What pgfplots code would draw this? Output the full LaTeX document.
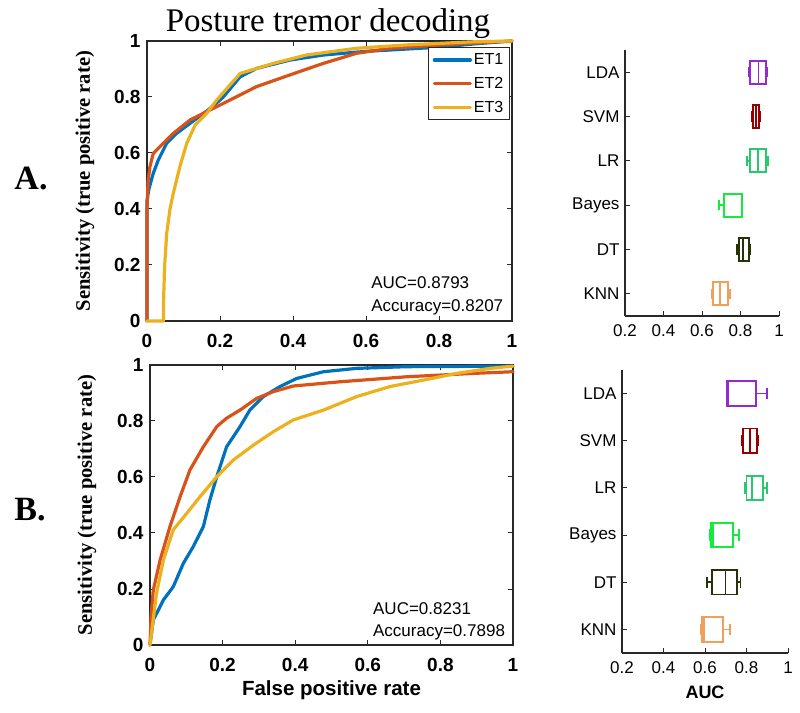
\documentclass[border=0pt]{standalone}
\usepackage{fontspec}
\setmainfont{Liberation Serif}
\setsansfont{Liberation Sans}
\usepackage{pgfplots}
\pgfplotsset{compat=1.18}
\usepgfplotslibrary{statistics}

\definecolor{et1}{RGB}{0,114,189}
\definecolor{et2}{RGB}{217,83,25}
\definecolor{et3}{RGB}{237,177,32}
\definecolor{cLDA}{RGB}{150,40,210}
\definecolor{cSVM}{RGB}{150,0,0}
\definecolor{cLR}{RGB}{40,200,110}
\definecolor{cBayes}{RGB}{20,235,60}
\definecolor{cDT}{RGB}{40,50,10}
\definecolor{cKNN}{RGB}{240,160,90}
\definecolor{axc}{RGB}{40,40,40}

\pgfplotsset{
  roc/.style={
    scale only axis, height=280pt,
    xmin=0, xmax=1, ymin=0, ymax=1,
    xtick={0,0.2,0.4,0.6,0.8,1}, ytick={0,0.2,0.4,0.6,0.8,1},
    axis line style={axc, line width=1.2pt},
    tick style={axc, line width=1pt},
    major tick length=5pt, tick align=inside,
    tick label style={font=\fontsize{19}{19}\selectfont\sffamily\bfseries},
    xticklabel style={yshift=-10pt},
    yticklabel style={xshift=-3pt},
    /pgf/number format/assume math mode=true,
    ylabel={Sensitivity (true positive rate)},
    every axis y label/.style={at={(axis description cs:-0.17,0.5)}, rotate=90, anchor=center,
      font=\fontsize{20.6}{20.6}\selectfont\rmfamily\bfseries},
    clip=false,
  },
  curve/.style={line width=3.2pt, line join=round, line cap=round},
  bx/.style={
    scale only axis,
    xmin=0.2, xmax=1, ymin=0.5, ymax=6.5,
    axis lines=left, axis line style={-, axc, line width=1.2pt},
    xtick={0.2,0.4,0.6,0.8,1}, ytick={1,2,3,4,5,6},
    yticklabels={KNN,DT,Bayes,LR,SVM,LDA},
    tick style={axc, line width=1pt},
    tick align=inside, major tick length=5pt,
    tick label style={font=\fontsize{17}{17}\selectfont\sffamily},
    xticklabel style={yshift=-5pt},
    yticklabel style={xshift=-2pt},
    /pgf/number format/assume math mode=true,
    boxplot/draw direction=x,
    boxplot/box extend=0.52,
    boxplot/whisker extend=0.24,
  },
  bp/.style={line width=1.8pt, draw=#1, solid},
}

\begin{document}
\begin{tikzpicture}
\useasboundingbox (0pt,0pt) rectangle (800pt,712pt);

\node[font=\fontsize{33}{33}\selectfont\rmfamily, anchor=base] at (328pt,680pt) {Posture tremor decoding};
\node[font=\fontsize{34}{34}\selectfont\rmfamily\bfseries] at (31pt,533pt) {A.};
\node[font=\fontsize{34}{34}\selectfont\rmfamily\bfseries] at (30pt,202pt) {B.};

% ---------- A: ROC ----------
\begin{axis}[roc, at={(147pt,391pt)}, anchor=south west, width=365pt,
  legend style={at={(rel axis cs:0.994,0.978)}, anchor=north east, draw=axc, line width=1pt,
    font=\fontsize{16}{16}\selectfont\sffamily, row sep=7pt, inner sep=4pt, cells={anchor=west}},
  legend image code/.code={\draw[#1, line width=3.2pt] (0pt,0pt) -- (36pt,0pt);},
]
\addplot[curve, et1] coordinates {(0,0) (0,0.2) (0,0.43) (0.005,0.47) (0.017,0.527) (0.031,0.575) (0.054,0.635) (0.081,0.670) (0.118,0.706) (0.164,0.75) (0.2,0.789) (0.209,0.80) (0.255,0.872) (0.30,0.902) (0.392,0.932) (0.484,0.95) (0.6,0.963) (0.803,0.978) (0.9,0.99) (1,1)};
\addlegendentry{ET1}
\addplot[curve, et2] coordinates {(0,0) (0,0.40) (0.003,0.5) (0.008,0.551) (0.017,0.598) (0.045,0.635) (0.072,0.670) (0.118,0.718) (0.164,0.748) (0.209,0.777) (0.30,0.837) (0.392,0.879) (0.483,0.920) (0.574,0.956) (0.666,0.974) (0.803,0.986) (0.9,0.993) (1,1)};
\addlegendentry{ET2}
\addplot[curve, et3] coordinates {(0,0) (0.045,0) (0.045,0.05) (0.048,0.19) (0.054,0.313) (0.063,0.40) (0.072,0.456) (0.09,0.551) (0.109,0.635) (0.132,0.70) (0.164,0.742) (0.191,0.789) (0.255,0.884) (0.346,0.920) (0.437,0.95) (0.574,0.974) (0.711,0.986) (0.893,0.997) (1,1)};
\addlegendentry{ET3}
\node[anchor=west, font=\fontsize{17}{17}\selectfont\sffamily] at (axis cs:0.605,0.136) {AUC=0.8793};
\node[anchor=west, font=\fontsize{17}{17}\selectfont\sffamily] at (axis cs:0.605,0.050) {Accuracy=0.8207};
\end{axis}

% ---------- B: ROC ----------
\begin{axis}[roc, at={(150pt,67pt)}, anchor=south west, width=363pt,
  xlabel={False positive rate},
  every axis x label/.style={at={(axis description cs:0.5,-0.16)}, anchor=center,
    font=\fontsize{20.5}{20.5}\selectfont\sffamily\bfseries},
  every axis y label/.style={at={(axis description cs:-0.174,0.5)}, rotate=90, anchor=center,
    font=\fontsize{20.6}{20.6}\selectfont\rmfamily\bfseries},
]
\addplot[curve, et1] coordinates {(0,0) (0.009,0.089) (0.037,0.161) (0.064,0.208) (0.092,0.292) (0.119,0.351) (0.147,0.423) (0.165,0.518) (0.184,0.601) (0.211,0.708) (0.248,0.780) (0.275,0.839) (0.312,0.887) (0.358,0.923) (0.404,0.952) (0.478,0.976) (0.569,0.988) (0.707,0.994) (1,0.996)};
\addplot[curve, et2] coordinates {(0,0) (0.003,0.1) (0.009,0.196) (0.028,0.304) (0.055,0.423) (0.083,0.530) (0.110,0.625) (0.147,0.708) (0.184,0.780) (0.211,0.810) (0.248,0.839) (0.294,0.881) (0.340,0.905) (0.395,0.925) (0.523,0.940) (0.707,0.958) (0.891,0.970) (1,0.976)};
\addplot[curve, et3] coordinates {(0,0) (0.018,0.185) (0.037,0.304) (0.064,0.411) (0.101,0.470) (0.138,0.530) (0.184,0.601) (0.230,0.661) (0.285,0.714) (0.340,0.762) (0.395,0.804) (0.478,0.839) (0.569,0.887) (0.661,0.923) (0.753,0.946) (0.845,0.970) (0.937,0.988) (1,0.996)};
\node[anchor=west, font=\fontsize{17}{17}\selectfont\sffamily] at (axis cs:0.605,0.129) {AUC=0.8231};
\node[anchor=west, font=\fontsize{17}{17}\selectfont\sffamily] at (axis cs:0.605,0.046) {Accuracy=0.7898};
\end{axis}

% ---------- A: boxplots ----------
\begin{axis}[bx, at={(625pt,396pt)}, anchor=south west, width=154pt, height=266pt]
\addplot[bp=cLDA, boxplot prepared={draw position=6, lower whisker=0.843, lower quartile=0.851, median=0.893, upper quartile=0.931, upper whisker=0.938}] coordinates {};
\addplot[bp=cSVM, boxplot prepared={draw position=5, lower whisker=0.860, lower quartile=0.865, median=0.880, upper quartile=0.895, upper whisker=0.900}] coordinates {};
\addplot[bp=cLR, boxplot prepared={draw position=4, lower whisker=0.834, lower quartile=0.848, median=0.892, upper quartile=0.934, upper whisker=0.943}] coordinates {};
\addplot[bp=cBayes, boxplot prepared={draw position=3, lower whisker=0.687, lower quartile=0.713, median=0.715, upper quartile=0.806, upper whisker=0.806}] coordinates {};
\addplot[bp=cDT, boxplot prepared={draw position=2, lower whisker=0.782, lower quartile=0.793, median=0.813, upper quartile=0.845, upper whisker=0.852}] coordinates {};
\addplot[bp=cKNN, boxplot prepared={draw position=1, lower whisker=0.649, lower quartile=0.658, median=0.692, upper quartile=0.736, upper whisker=0.744}] coordinates {};
\end{axis}

% ---------- B: boxplots ----------
\begin{axis}[bx, at={(622pt,59pt)}, anchor=south west, width=166pt, height=283pt,
  xlabel={AUC},
  every axis x label/.style={at={(axis description cs:0.5,-0.139)}, anchor=center,
    font=\fontsize{18}{18}\selectfont\sffamily\bfseries},
]
\addplot[bp=cLDA, boxplot prepared={draw position=6, lower whisker=0.705, lower quartile=0.707, median=0.712, upper quartile=0.844, upper whisker=0.900}] coordinates {};
\addplot[bp=cSVM, boxplot prepared={draw position=5, lower whisker=0.778, lower quartile=0.783, median=0.817, upper quartile=0.852, upper whisker=0.858}] coordinates {};
\addplot[bp=cLR, boxplot prepared={draw position=4, lower whisker=0.791, lower quartile=0.800, median=0.828, upper quartile=0.881, upper whisker=0.900}] coordinates {};
\addplot[bp=cBayes, boxplot prepared={draw position=3, lower whisker=0.625, lower quartile=0.630, median=0.638, upper quartile=0.736, upper whisker=0.763}] coordinates {};
\addplot[bp=cDT, boxplot prepared={draw position=2, lower whisker=0.610, lower quartile=0.635, median=0.699, upper quartile=0.755, upper whisker=0.771}] coordinates {};
\addplot[bp=cKNN, boxplot prepared={draw position=1, lower whisker=0.578, lower quartile=0.586, median=0.594, upper quartile=0.688, upper whisker=0.720}] coordinates {};
\end{axis}
\end{tikzpicture}
\end{document}
